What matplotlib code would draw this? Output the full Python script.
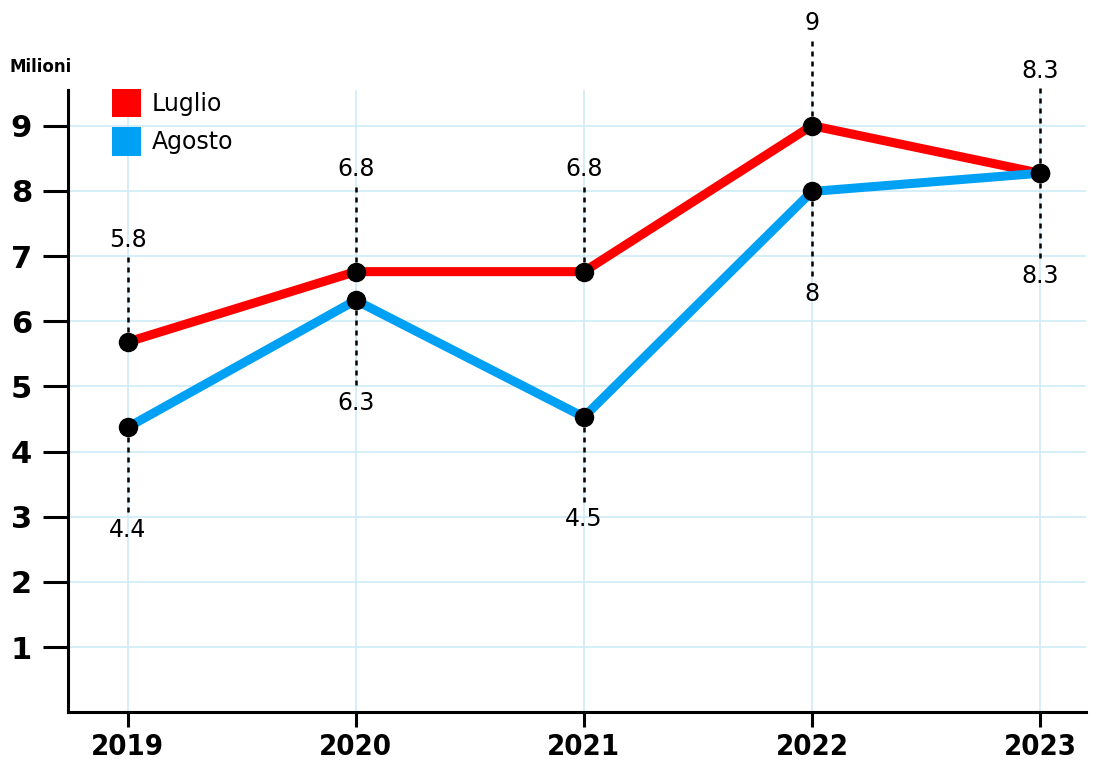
import matplotlib.pyplot as plt
from matplotlib.patches import Patch

# dati (milioni)
anni = ['2019', '2020', '2021', '2022', '2023']
luglio = [5.68, 6.76, 6.76, 9.0, 8.27]
agosto = [4.37, 6.32, 4.53, 7.99, 8.27]
etichette_luglio = ['5.8', '6.8', '6.8', '9', '8.3']
etichette_agosto = ['4.4', '6.3', '4.5', '8', '8.3']

ROSSO = '#FF0000'
BLU = '#00A0F4'

fig = plt.figure(figsize=(11, 7.61), dpi=100)
ax = fig.add_axes([0.062, 0.064, 0.925, 0.818])

x = list(range(len(anni)))

ax.set_xlim(-0.26, 4.2)
ax.set_ylim(0, 9.55)

# griglia
ax.set_yticks(range(1, 10))
ax.set_xticks(x)
ax.grid(True, color='#CDEBF7', linewidth=1.2, zorder=0)

ax.plot(x, luglio, color=ROSSO, linewidth=6.5, solid_capstyle='butt', zorder=3)
ax.plot(x, agosto, color=BLU, linewidth=6.5, solid_capstyle='butt', zorder=3)
ax.plot(x, luglio, 'o', color='black', markersize=13, zorder=5)
ax.plot(x, agosto, 'o', color='black', markersize=13, zorder=5)

# linee tratteggiate ed etichette
linea = 1.32
off = 1.57
for i in x:
    yl = luglio[i]
    ax.plot([i, i], [yl, yl + linea], color='black', linestyle=(0, (2, 2)),
            linewidth=1.8, zorder=4, clip_on=False)
    ax.text(i, yl + off, etichette_luglio[i], ha='center', va='center',
            fontsize=17, clip_on=False)
    ya = agosto[i]
    ax.plot([i, i], [ya, ya - linea], color='black', linestyle=(0, (2, 2)),
            linewidth=1.8, zorder=4, clip_on=False)
    ax.text(i, ya - off, etichette_agosto[i], ha='center', va='center',
            fontsize=17, clip_on=False)

for s in ['top', 'right']:
    ax.spines[s].set_visible(False)
for s in ['left', 'bottom']:
    ax.spines[s].set_linewidth(2.2)

ax.tick_params(axis='y', length=18, width=2.2, pad=8, labelsize=22)
ax.tick_params(axis='x', length=11, width=2.2, pad=4)
for t in ax.get_yticklabels():
    t.set_fontweight('bold')
ax.set_xticklabels(anni, fontsize=21, fontweight='bold', fontstretch='condensed')

fig.text(0.009, 0.912, 'Milioni', fontsize=12, fontweight='bold', va='center')

maniglie = [Patch(facecolor=ROSSO, label='Luglio'), Patch(facecolor=BLU, label='Agosto')]
leg = ax.legend(handles=maniglie, loc='upper left', bbox_to_anchor=(0.043, 1.002),
                frameon=False, fontsize=17, handlelength=1.22, handleheight=1.5,
                handletextpad=0.45, labelspacing=0.4, borderaxespad=0,
                borderpad=0)

fig.savefig('out.png', dpi=100)
